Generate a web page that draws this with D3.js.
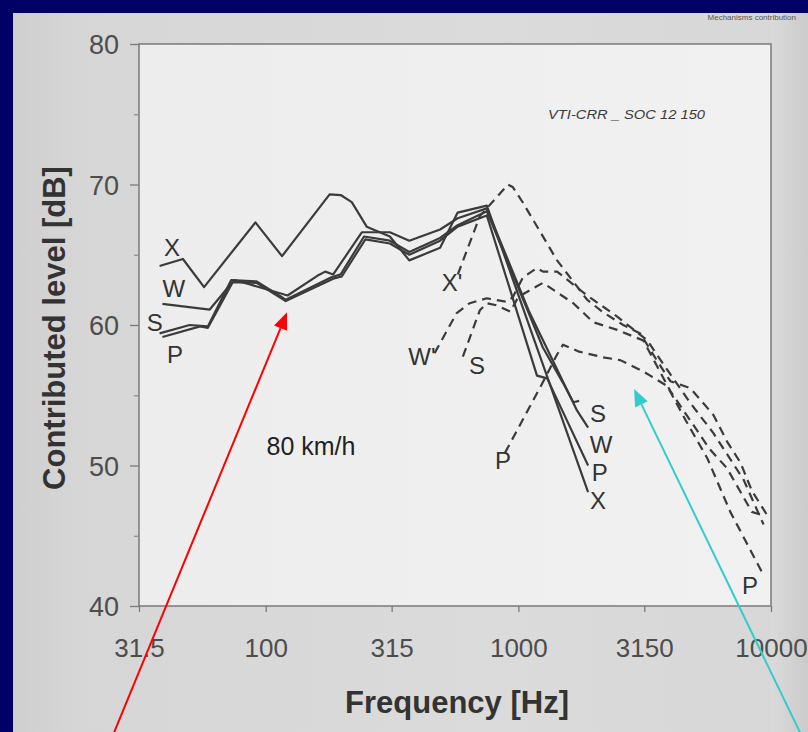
<!DOCTYPE html>
<html><head><meta charset="utf-8">
<script src="https://cdn.jsdelivr.net/npm/d3@7"></script>
<style>html,body{margin:0;padding:0;background:#000066;} svg{display:block}</style>
</head><body><svg id="c" width="808" height="732"></svg>
<script>
// ---------- data ----------
const xTickValues = [31.5, 100, 315, 1000, 3150, 10000];
const xTickLabels = ["31.5", "100", "315", "1000", "3150", "10000"];
const yTickValues = [40, 50, 60, 70, 80];
const yMinorTicks = [45, 55, 65, 75];

// solid curves [frequency Hz, level dB]
const solidX = [[38,64.2],[47,64.7],[57,62.7],[91,67.3],[116,64.9],[179,69.3],[198,69.25],[219,68.75],[251,67.0],[310,66.3],[370,64.6],[490,65.5],[575,68.0],[750,68.5],[1250,57.2],[1888,48.1]];
const solidW = [[39,61.5],[60,61.1],[75,63.2],[86,62.9],[122,62.1],[160,63.5],[172,63.8],[185,63.6],[240,66.6],[310,66.6],[370,66.0],[490,66.8],[575,67.6],[750,68.3],[1100,61.0],[1708,53.9],[1888,52.7]];
const solidS = [[38,59.4],[50,60.0],[59,59.9],[73,63.2],[92,63.1],[113,62.1],[120,61.8],[182,63.4],[198,63.6],[245,66.3],[310,66.0],[370,65.2],[490,66.2],[575,67.1],[750,68.1],[1250,58.4],[1500,55.9],[1650,54.5],[1740,54.6]];
const solidP = [[39,59.15],[55,59.9],[59,59.8],[74,63.05],[92,63.0],[120,61.7],[185,63.3],[200,63.45],[248,66.1],[310,65.8],[370,65.0],[490,66.0],[575,67.0],[750,67.8],[1185,56.4],[1300,56.2],[1888,50.0]];

// dashed curves
const dashedX = [[576,63.6],[704,67.75],[909,70.0],[952,69.8],[1043,68.7],[1423,64.6],[1871,61.8],[2166,60.9],[2600,60.0],[3037,59.4],[3500,57.6],[3995,56.0],[4794,55.5],[5917,53.6],[6700,51.7],[7573,50.2],[8400,48.2],[9785,46.3]];
const dashedW = [[466,58.0],[570,60.85],[642,61.55],[750,61.9],[900,61.65],[952,62.0],[1043,63.4],[1185,64.05],[1252,63.8],[1423,63.8],[1871,62.1],[2462,60.6],[3238,58.9],[3887,56.8],[4794,54.45],[5917,52.3],[7784,49.0],[9343,45.8]];
const dashedS = [[603,57.75],[704,61.05],[750,61.55],[822,61.4],[930,60.95],[1000,62.0],[1250,63.0],[1650,61.55],[1977,60.2],[2462,59.65],[3121,58.9],[3995,55.3],[4794,53.2],[5700,51.2],[6700,49.8],[8400,46.7],[9090,46.5]];
const dashedP = [[885,50.9],[1240,55.8],[1423,57.9],[1503,58.6],[1740,58.1],[2166,57.7],[2530,57.5],[3121,56.7],[3887,55.65],[4600,53.2],[5601,50.5],[6900,46.7],[9343,42.2]];

// curve labels [text, frequency, level]
const curveLabels = [["X",42.6,65.5],["W",43.3,62.6],["S",36.4,60.2],["P",43.7,57.9],
  ["X'",546,63.0],["W'",415,57.8],["S",686,57.1],["P",869,50.4],
  ["S",2067,53.7],["W",2125,51.5],["P",2100,49.5],["X",2067,47.5],["P",8266,41.5]];
const speedLabel = ["80 km/h", 151, 51.4];

// arrows [tailFreq, tailDb, tipFreq, tipDb]
const redArrow = [25.1, 31.0, 121.4, 60.9];
const cyanArrow = [13035, 31.0, 2870, 55.44];

// ---------- drawing ----------
const svg = d3.select('#c');
const x = d3.scaleLog().domain([31.5, 10000]).range([139, 771]);
const y = d3.scaleLinear().domain([40, 80]).range([606, 44]);
const FONT = "'Liberation Sans', Arial, Helvetica, sans-serif";

const defs = svg.append('defs');
const pg = defs.append('linearGradient').attr('id','pg');
pg.append('stop').attr('offset','0%').attr('stop-color','#cfcfcf');
pg.append('stop').attr('offset','8%').attr('stop-color','#d6d6d6');
pg.append('stop').attr('offset','60%').attr('stop-color','#dbdbdb');
pg.append('stop').attr('offset','100%').attr('stop-color','#d7d7d7');
const rs = defs.append('linearGradient').attr('id','rs');
rs.append('stop').attr('offset','0%').attr('stop-color','#dadada');
rs.append('stop').attr('offset','100%').attr('stop-color','#cbcbcb');
const bx = defs.append('linearGradient').attr('id','bx');
bx.append('stop').attr('offset','0%').attr('stop-color','#ededed');
bx.append('stop').attr('offset','100%').attr('stop-color','#f1f1f1');

svg.append('rect').attr('width',808).attr('height',732).attr('fill','#000066');
svg.append('rect').attr('x',13).attr('y',13).attr('width',795).attr('height',719).attr('fill','url(#pg)');
svg.append('rect').attr('x',771).attr('y',13).attr('width',37).attr('height',719).attr('fill','url(#rs)');

// plot box
svg.append('rect').attr('x',x(31.5)).attr('y',y(80)).attr('width',x(10000)-x(31.5)).attr('height',y(40)-y(80))
  .attr('fill','url(#bx)').attr('stroke','#7a7a7a').attr('stroke-width',1.5);

// axes
const gx = svg.append('g').attr('transform',`translate(0,${y(40)})`)
  .call(d3.axisBottom(x).tickValues(xTickValues).tickFormat((d,i)=>xTickLabels[i]).tickSize(6).tickSizeOuter(0));
gx.select('.domain').remove();
gx.selectAll('line').attr('stroke','#7a7a7a').attr('stroke-width',1.3);
gx.selectAll('text').attr('y',51).attr('dy','0').attr('fill','#4d4d4d')
  .style('font-family',FONT).style('font-size','26px');

const gy = svg.append('g').attr('transform',`translate(${x(31.5)},0)`)
  .call(d3.axisLeft(y).tickValues(yTickValues).tickFormat(d3.format('d')).tickSize(9).tickSizeOuter(0));
gy.select('.domain').remove();
gy.selectAll('line').attr('stroke','#7a7a7a').attr('stroke-width',1.3);
gy.selectAll('text').attr('x',-20).attr('dy','0.36em').attr('fill','#4d4d4d')
  .style('font-family',FONT).style('font-size','27px');
const gym = svg.append('g').attr('transform',`translate(${x(31.5)},0)`)
  .call(d3.axisLeft(y).tickValues(yMinorTicks).tickFormat('').tickSize(5).tickSizeOuter(0));
gym.select('.domain').remove();
gym.selectAll('line').attr('stroke','#8a8a8a').attr('stroke-width',1.2);

// axis titles
svg.append('text').attr('x',457).attr('y',713).attr('text-anchor','middle')
  .attr('fill','#333').style('font-family',FONT).style('font-weight','bold').style('font-size','31px')
  .text('Frequency [Hz]');
svg.append('text').attr('transform',`translate(65,${(y(40)+y(80))/2 + 3}) rotate(-90)`).attr('text-anchor','middle')
  .attr('fill','#333').style('font-family',FONT).style('font-weight','bold').style('font-size','31px')
  .text('Contributed level [dB]');

// small texts
svg.append('text').attr('x',705).attr('y',119).attr('text-anchor','end').attr('fill','#3a3a3a')
  .style('font-family',FONT).style('font-style','italic').style('font-size','13px')
  .attr('textLength',157).attr('lengthAdjust','spacingAndGlyphs').text('VTI-CRR _ SOC 12 150');
svg.append('text').attr('x',796).attr('y',20).attr('text-anchor','end').attr('fill','#555')
  .style('font-family',FONT).style('font-size','8px').text('Mechanisms contribution');

// curves
const line = d3.line().x(d=>x(d[0])).y(d=>y(d[1]));
const curves = svg.append('g').attr('fill','none').attr('stroke','#3b3b3b').attr('stroke-width',2.2)
  .attr('stroke-linejoin','round').attr('stroke-linecap','butt');
[solidX, solidW, solidS, solidP].forEach(s => curves.append('path').attr('d', line(s)));
[dashedX, dashedW, dashedS, dashedP].forEach(s => curves.append('path').attr('d', line(s)).attr('stroke-dasharray','9,6'));

// curve labels
svg.append('g').selectAll('text').data(curveLabels).join('text')
  .attr('x',d=>x(d[1])).attr('y',d=>y(d[2])).attr('text-anchor','middle').attr('dy','0.36em')
  .attr('fill','#333').style('font-family',FONT).style('font-size','24px').text(d=>d[0]);
svg.append('text').attr('x',x(speedLabel[1])).attr('y',y(speedLabel[2])).attr('text-anchor','middle').attr('dy','0.36em')
  .attr('fill','#222').style('font-family',FONT).style('font-size','25px').text(speedLabel[0]);

// arrows
function arrow(a, color){
  const x1=x(a[0]), y1=y(a[1]), x2=x(a[2]), y2=y(a[3]);
  const ang=Math.atan2(y2-y1,x2-x1), L=17, W=7;
  const bxp=x2-L*Math.cos(ang), byp=y2-L*Math.sin(ang);
  svg.append('line').attr('x1',x1).attr('y1',y1).attr('x2',bxp).attr('y2',byp)
    .attr('stroke',color).attr('stroke-width',2);
  const px=-Math.sin(ang)*W, py=Math.cos(ang)*W;
  svg.append('path').attr('d',`M${x2},${y2}L${bxp+px},${byp+py}L${bxp-px},${byp-py}Z`).attr('fill',color);
}
arrow(redArrow,'#ff0000');
arrow(cyanArrow,'#33cccc');
</script></body></html>
